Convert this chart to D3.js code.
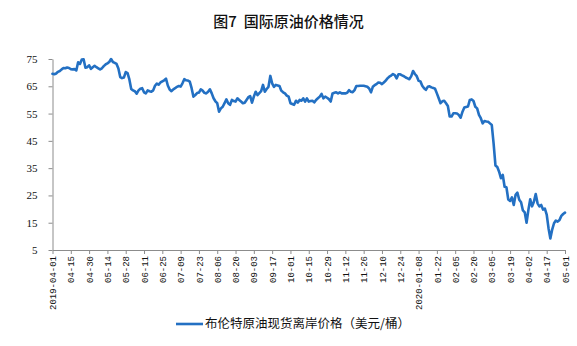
<!DOCTYPE html>
<html>
<head>
<meta charset="utf-8">
<script src="https://cdn.jsdelivr.net/npm/d3@7"></script>
<style>
  body { margin: 0; background: #fff; }
  svg { display: block; }
</style>
</head>
<body>
<svg id="chart" width="577" height="346"></svg>
<script>
// ---- data ----
const title = "图7  国际原油价格情况";
const seriesName = "布伦特原油现货离岸价格（美元/桶）";

// trading calendar: weekdays between these dates, minus the closed days
const firstDay = "2019-04-01";
const lastDay = "2020-05-01";
const closedDays = ["2019-04-19", "2019-12-25", "2020-02-17", "2020-04-10"];

// Brent spot FOB, USD per barrel, one value per trading day
const prices = [
  69.6, 69.4, 69.7, 70.3, 70.6, 71.2, 71.7, 71.6, 71.9, 71.7,
  71.3, 71.2, 71.3, 70.8, 73.8, 73.2, 74.8, 74.9, 71.8, 72.0,
  72.7, 71.4, 72.0, 72.5, 72.0, 71.6, 71.2, 71.6, 72.4, 73.0,
  73.4, 73.9, 75.0, 73.9, 73.6, 73.2, 71.5, 68.4, 68.0, 68.2,
  70.2, 69.8, 67.5, 64.0, 63.5, 63.2, 62.3, 63.5, 64.1, 64.3,
  62.8, 62.4, 63.5, 63.2, 63.0, 63.5, 65.2, 66.0, 65.6, 66.4,
  66.8, 67.2, 67.8, 65.3, 63.8, 63.2, 63.9, 64.3, 64.8, 65.1,
  64.9, 66.1, 67.6, 67.2, 67.1, 66.7, 64.3, 61.2, 61.8, 62.5,
  62.7, 63.9, 63.4, 62.6, 62.4, 63.0, 63.9, 62.4, 60.6, 59.5,
  58.8, 55.7, 56.9, 57.5, 58.8, 60.2, 58.8, 58.2, 60.0, 59.6,
  59.4, 60.6, 60.0, 59.4, 58.8, 59.0, 60.0, 61.0, 61.4, 59.0,
  61.2, 63.0, 61.8, 62.5, 63.2, 65.5, 63.0, 64.0, 64.8, 68.8,
  66.1, 64.8, 65.5, 65.3, 65.1, 63.4, 62.8, 62.4, 61.6, 61.2,
  58.8, 58.5, 58.2, 59.7, 59.0, 60.0, 59.7, 60.6, 59.4, 60.6,
  59.4, 59.6, 59.7, 59.1, 60.0, 60.6, 61.2, 62.2, 60.6, 61.2,
  60.8, 60.3, 59.4, 62.4, 62.6, 62.8, 62.4, 62.8, 62.4, 62.4,
  62.4, 62.6, 63.6, 63.0, 62.8, 63.6, 65.1, 65.1, 65.2, 65.2,
  65.2, 65.0, 64.8, 64.2, 62.8, 64.8, 65.4, 65.8, 66.4, 66.3,
  65.8, 66.4, 67.0, 67.9, 68.5, 68.9, 69.5, 69.1, 67.9, 69.4,
  69.4, 69.0, 68.7, 68.2, 67.9, 67.6, 68.7, 70.6, 69.5, 68.7,
  67.0, 66.8, 65.2, 64.3, 63.7, 64.8, 65.0, 64.6, 64.4, 64.1,
  62.4, 60.6, 58.8, 59.5, 59.7, 58.8, 57.8, 53.9, 53.9, 55.1,
  55.1, 55.0, 54.5, 53.5, 55.7, 57.2, 57.4, 57.6, 60.0, 60.2,
  59.6, 57.5, 56.9, 54.5, 53.3, 51.4, 52.3, 52.1, 52.0, 51.4,
  50.8, 44.0, 36.0, 35.4, 33.7, 31.3, 32.5, 28.2, 28.0, 23.5,
  23.0, 24.3, 21.5, 25.2, 26.0, 23.4, 22.5, 19.5, 18.8, 15.0,
  19.7, 23.6, 21.0, 22.7, 25.5, 22.1, 21.0, 21.5, 19.8, 20.2,
  18.0, 13.0, 9.2, 12.5, 14.8, 15.8, 15.4, 16.0, 17.5, 18.2,
  18.7
];

const yTicks = [5, 15, 25, 35, 45, 55, 65, 75];
const xTickEvery = 10;
const xTickLabels = [
  "2019-04-01", "04-15", "04-30", "05-14", "05-28", "06-11", "06-25",
  "07-09", "07-23", "08-06", "08-20", "09-03", "09-17", "10-01",
  "10-15", "10-29", "11-12", "11-26", "12-10", "12-24", "2020-01-08",
  "01-22", "02-05", "02-20", "03-05", "03-19", "04-02", "04-17", "05-01"
];

// ---- calendar ----
const parse = d3.utcParse("%Y-%m-%d");
const fmt = d3.utcFormat("%Y-%m-%d");
const closed = new Set(closedDays);
const days = d3.utcDays(parse(firstDay), d3.utcDay.offset(parse(lastDay), 1))
  .filter(d => d.getUTCDay() % 6 !== 0 && !closed.has(fmt(d)))
  .map(fmt);

// ---- layout ----
const svg = d3.select("#chart");
const plot = { left: 52.5, right: 565, top: 59, bottom: 250 };
const axisColor = "#8c8c8c";
const lineColor = "#2370c3";

const x = d3.scalePoint().domain(days).range([plot.left, plot.right]);
const y = d3.scaleLinear().domain([5, 75]).range([plot.bottom, plot.top]);

// title
svg.append("text")
  .attr("x", 288.5).attr("y", 22).attr("dy", "0.35em")
  .attr("text-anchor", "middle")
  .style("white-space", "pre")
  .style("font-family", "'Noto Sans CJK SC', sans-serif")
  .style("font-size", "15px").style("font-weight", 500)
  .attr("fill", "#111")
  .text(title);

// y axis
const yAxis = svg.append("g")
  .attr("transform", `translate(${plot.left},0)`)
  .call(d3.axisLeft(y).tickValues(yTicks).tickFormat(d3.format("d"))
    .tickSize(4).tickSizeOuter(0).tickPadding(11));
yAxis.select(".domain").attr("stroke", axisColor);
yAxis.selectAll(".tick line").attr("stroke", axisColor);
yAxis.selectAll("text")
  .style("font-family", "'Liberation Serif', 'Times New Roman', serif")
  .style("font-size", "11px").attr("fill", "#111");

// x axis
const xTicks = days.filter((d, i) => i % xTickEvery === 0);
const xAxis = svg.append("g")
  .attr("transform", `translate(0,${plot.bottom})`)
  .call(d3.axisBottom(x).tickValues(xTicks)
    .tickFormat((d, i) => xTickLabels[i])
    .tickSize(4).tickSizeOuter(0));
xAxis.select(".domain").attr("stroke", axisColor);
xAxis.selectAll(".tick line").attr("stroke", axisColor);
xAxis.selectAll("text")
  .attr("transform", "rotate(-90)")
  .attr("text-anchor", "end")
  .attr("x", -6).attr("y", 0).attr("dy", "0.35em")
  .style("font-family", "'Liberation Mono', monospace")
  .style("font-size", "9px").attr("fill", "#111");

// price line
const line = d3.line()
  .x((d, i) => x(days[i]))
  .y(d => y(d));
svg.append("path")
  .datum(prices)
  .attr("d", line)
  .attr("fill", "none")
  .attr("stroke", lineColor)
  .attr("stroke-width", 2.6)
  .attr("stroke-linejoin", "round")
  .attr("stroke-linecap", "round");

// legend
const legend = svg.append("g").attr("transform", "translate(176,324)");
legend.append("line")
  .attr("x1", 0).attr("x2", 27).attr("y1", 0).attr("y2", 0)
  .attr("stroke", lineColor).attr("stroke-width", 2.6);
legend.append("text")
  .attr("x", 29).attr("y", 0).attr("dy", "0.35em")
  .style("font-family", "'Noto Sans CJK SC', sans-serif")
  .style("font-size", "12.5px")
  .attr("fill", "#111")
  .text(seriesName);
</script>
</body>
</html>
